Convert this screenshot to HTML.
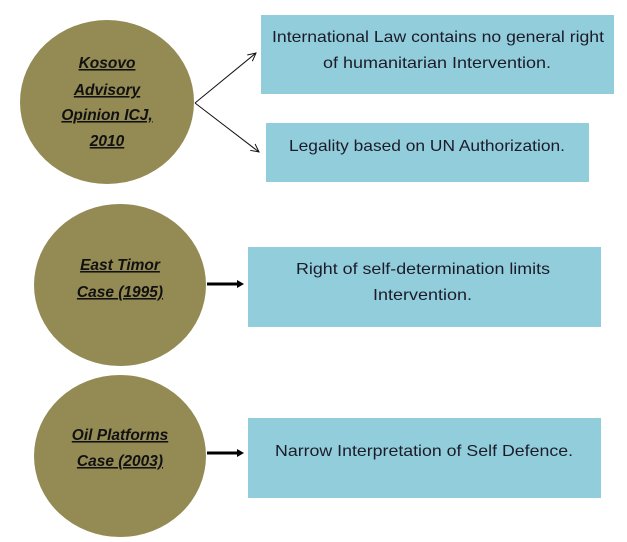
<!DOCTYPE html>
<html><head><meta charset="utf-8"><style>
html,body{margin:0;padding:0;background:#fff;}
svg{display:block;}
.t{font-family:"Liberation Sans",sans-serif;font-size:16px;fill:#1c1c28;}
.c{font-family:"Liberation Sans",sans-serif;font-size:15.5px;font-weight:bold;font-style:italic;text-decoration:underline;fill:#111;}
</style></head><body>
<svg width="627" height="542" viewBox="0 0 627 542" xmlns="http://www.w3.org/2000/svg">
<defs>
<marker id="a" markerWidth="10" markerHeight="10" refX="9" refY="5" orient="auto" markerUnits="userSpaceOnUse"><path d="M1,1 L9,5 L1,9" fill="none" stroke="#111" stroke-width="1"/></marker>
</defs>
<ellipse cx="107" cy="102" rx="87" ry="82" fill="#948A54"/>
<ellipse cx="120" cy="285" rx="86" ry="81" fill="#948A54"/>
<ellipse cx="120" cy="456" rx="86" ry="81" fill="#948A54"/>
<g text-anchor="middle">
<text x="107" y="68" class="c">Kosovo</text>
<text x="107" y="95" class="c">Advisory</text>
<text x="107" y="120" class="c">Opinion ICJ,</text>
<text x="107" y="146" class="c">2010</text>
<text x="120" y="270" class="c">East Timor</text>
<text x="120" y="297" class="c">Case (1995)</text>
<text x="120" y="440" class="c">Oil Platforms</text>
<text x="120" y="466" class="c">Case (2003)</text>
</g>
<rect x="261" y="15" width="353" height="79" fill="#92CDDC"/>
<rect x="266" y="123" width="323" height="59" fill="#92CDDC"/>
<rect x="248" y="247" width="353" height="80" fill="#92CDDC"/>
<rect x="248" y="418" width="353" height="80" fill="#92CDDC"/>
<text class="t" x="272" y="42" textLength="332" lengthAdjust="spacingAndGlyphs">International Law contains no general right</text>
<text class="t" x="323" y="68" textLength="228" lengthAdjust="spacingAndGlyphs">of humanitarian Intervention.</text>
<text class="t" x="289" y="151" textLength="276" lengthAdjust="spacingAndGlyphs">Legality based on UN Authorization.</text>
<text class="t" x="296" y="274" textLength="254" lengthAdjust="spacingAndGlyphs">Right of self-determination limits</text>
<text class="t" x="373" y="300" textLength="99" lengthAdjust="spacingAndGlyphs">Intervention.</text>
<text class="t" x="275" y="456" textLength="298" lengthAdjust="spacingAndGlyphs">Narrow Interpretation of Self Defence.</text>
<line x1="195" y1="103" x2="256" y2="53" stroke="#111" stroke-width="1" marker-end="url(#a)"/>
<line x1="195" y1="103" x2="259" y2="152" stroke="#111" stroke-width="1" marker-end="url(#a)"/>
<line x1="207" y1="284" x2="238" y2="284" stroke="#000" stroke-width="3"/>
<path d="M237,280 L244,284 L237,288 Z" fill="#000"/>
<line x1="207" y1="453" x2="238" y2="453" stroke="#000" stroke-width="3"/>
<path d="M237,449 L244,453 L237,457 Z" fill="#000"/>
</svg>
</body></html>
